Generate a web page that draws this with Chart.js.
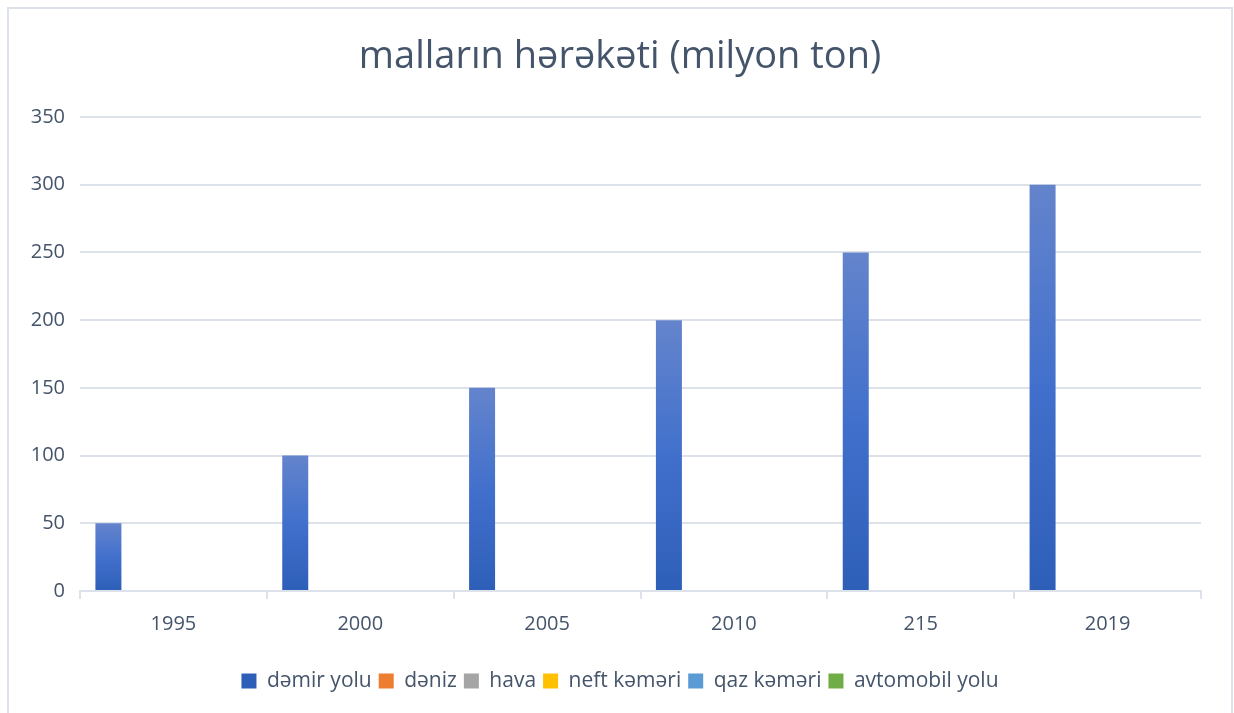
<!doctype html>
<html>
<head>
    <meta charset="UTF-8">
    <title>malların hərəkəti</title>
    <script src="https://cdn.jsdelivr.net/npm/chart.js@4.4.1/dist/chart.umd.min.js"></script>
    <style>
        body { margin:0; background:#fff; overflow:hidden; }
        #frame { position:absolute; left:7px; top:7px; width:1222px; height:720px; border:2px solid #dde2ea; }
        #wrap { position:absolute; left:0; top:0; width:1234px; height:713px; }
    </style>
</head>
<body>
<div id="frame"></div>
<div id="wrap"><canvas id="myCanvas" width="1234" height="713"></canvas></div>
<script>
    // illər
    const years = ['1995', '2000', '2005', '2010', '215', '2019'];
    // nəqliyyat növləri
    const demirYolu = [50, 100, 150, 200, 250, 300];
    const deniz = [0, 0, 0, 0, 0, 0];
    const hava = [0, 0, 0, 0, 0, 0];
    const neftKemeri = [0, 0, 0, 0, 0, 0];
    const qazKemeri = [0, 0, 0, 0, 0, 0];
    const avtomobilYolu = [0, 0, 0, 0, 0, 0];
    const yTicks = [0, 50, 100, 150, 200, 250, 300, 350];

    const textColor = '#44546a';
    const gridColor = '#dde2ea';

    // hər sütun üçün yuxarıdan aşağı gradient
    function barGradient(c) {
        if (c.raw === undefined || !c.chart.chartArea) return '#4472c4';
        const y = c.chart.scales.y;
        const top = y.getPixelForValue(c.raw);
        const bot = y.getPixelForValue(0);
        if (!isFinite(top) || top === bot) return '#4472c4';
        const g = c.chart.ctx.createLinearGradient(0, top, 0, bot);
        g.addColorStop(0, '#6484cc');
        g.addColorStop(0.5, '#4170cc');
        g.addColorStop(1, '#2e5fb8');
        return g;
    }

    Chart.defaults.font.family = '"Open Sans", sans-serif';
    Chart.defaults.color = textColor;

    const ctx = document.getElementById('myCanvas').getContext('2d');
    const myChart = new Chart(ctx, {
        type: 'bar',
        data: {
            labels: years,
            datasets: [
                { label: 'dəmir yolu', data: demirYolu, backgroundColor: barGradient },
                { label: 'dəniz', data: deniz, backgroundColor: '#ed7d31' },
                { label: 'hava', data: hava, backgroundColor: '#a5a5a5' },
                { label: 'neft kəməri', data: neftKemeri, backgroundColor: '#ffc000' },
                { label: 'qaz kəməri', data: qazKemeri, backgroundColor: '#5b9bd5' },
                { label: 'avtomobil yolu', data: avtomobilYolu, backgroundColor: '#70ad47' }
            ]
        },
        options: {
            responsive: false,
            animation: false,
            categoryPercentage: 0.835,
            barPercentage: 1,
            layout: { padding: { left: 6, right: 0, top: 0, bottom: 11.5 } },
            plugins: {
                title: {
                    display: true,
                    text: 'malların hərəkəti (milyon ton)',
                    color: textColor,
                    font: { size: 38, weight: 'normal' },
                    padding: { top: 34, bottom: 37.4 }
                },
                legend: {
                    position: 'bottom',
                    labels: {
                        boxWidth: 15,
                        boxHeight: 15,
                        padding: 7,
                        color: textColor,
                        font: { size: 21 }
                    }
                },
                tooltip: { enabled: false }
            },
            scales: {
                x: {
                    grid: { display: true, drawOnChartArea: false, offset: true, tickLength: 8, color: gridColor, lineWidth: 2 },
                    border: { display: true, color: gridColor, width: 2 },
                    ticks: { font: { size: 20 }, color: textColor, padding: 13 },
                    afterFit: s => { s.height = 72.5; }
                },
                y: {
                    min: 0,
                    max: 350,
                    afterBuildTicks: s => { s.ticks = yTicks.map(v => ({ value: v })); },
                    grid: { drawTicks: false, color: gridColor, lineWidth: 2 },
                    border: { display: false },
                    ticks: { font: { size: 20 }, color: textColor, padding: 15 },
                    afterFit: s => { s.width = 74; }
                },
                yr: {
                    position: 'right',
                    min: 0,
                    max: 350,
                    grid: { display: false },
                    border: { display: false },
                    ticks: { display: false },
                    afterFit: s => { s.width = 33; }
                }
            }
        }
    });
</script>
</body>
</html>
